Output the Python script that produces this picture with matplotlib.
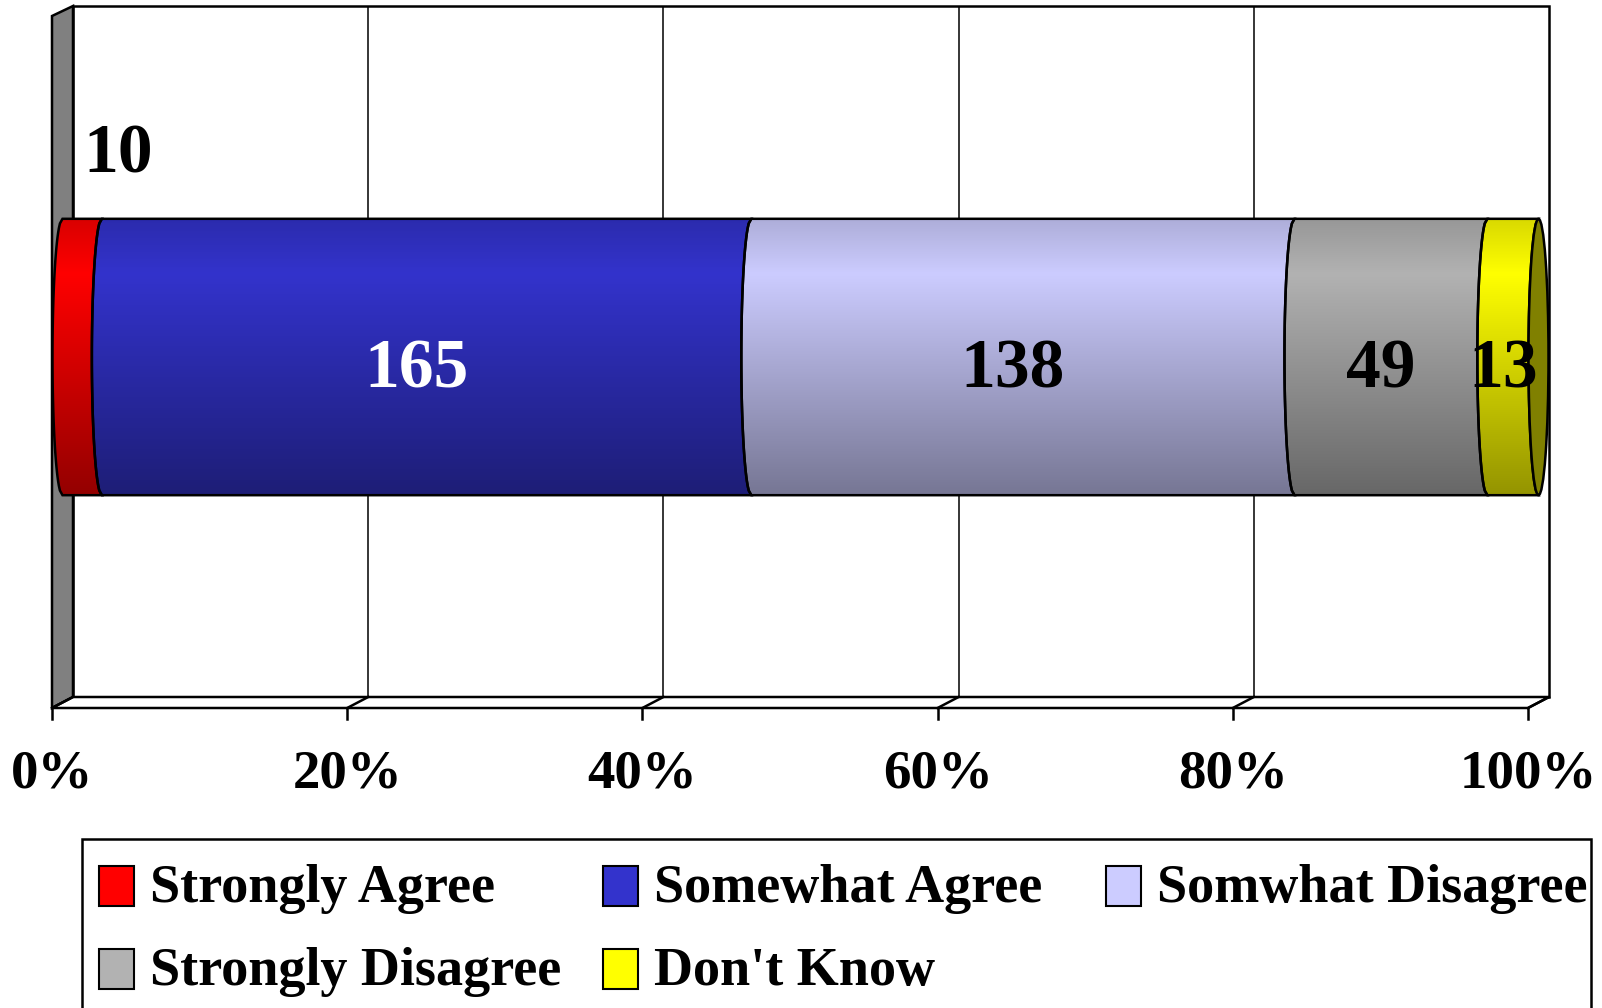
import numpy as np
import matplotlib
matplotlib.use("Agg")
import matplotlib.pyplot as plt
import matplotlib.transforms as mtransforms
from matplotlib.patches import Polygon, Rectangle, Ellipse
from matplotlib.lines import Line2D

# ---------------- data ----------------
categories = ["Strongly Agree", "Somewhat Agree", "Somwhat Disagree",
              "Strongly Disagree", "Don't Know"]
counts = [10, 165, 138, 49, 13]
colors = ["#FF0000", "#3333CC", "#CCCCFF", "#B2B2B2", "#FFFF00"]
label_colors = ["black", "white", "black", "black", "black"]
cap_color = "#808000"
tick_values = [0, 20, 40, 60, 80, 100]
tick_labels = ["0%", "20%", "40%", "60%", "80%", "100%"]

# ---------------- figure / geometry ----------------
W, H = 1602, 1008
DPI = 100
plt.rcParams["font.family"] = ["Liberation Serif", "DejaVu Serif"]
plt.rcParams["font.weight"] = "bold"
fig = plt.figure(figsize=(W / DPI, H / DPI), dpi=DPI)
fig.patch.set_facecolor("white")

L, R, T, B = 73, 1549, 6, 697          # back wall in pixels (top-left origin)
ax = fig.add_axes([L / W, 1 - B / H, (R - L) / W, (B - T) / H])
ax.set_xlim(0, 100)
ax.set_ylim(-1, 1)
ax.axis("off")

LW = 1.8
FRONT = np.array([-21.0, -11.0])   # display offset of front plane
BARP = np.array([-10.5, -5.5])     # display offset of bar plane
ident = mtransforms.IdentityTransform()
tf_bar = ax.transData + mtransforms.Affine2D().translate(*BARP)


def disp(x, y, off=(0, 0)):
    return ax.transData.transform((x, y)) + np.asarray(off)


# back wall
ax.add_patch(Rectangle((0, -1), 100, 2, facecolor="white", edgecolor="black",
                       lw=LW, zorder=1, clip_on=False))
for v in tick_values[1:-1]:
    ax.plot([v, v], [-1, 1], color="black", lw=1.1, zorder=1.5)

# left wall
wall = [disp(0, -1), disp(0, 1), disp(0, 1, FRONT + [0, 1]), disp(0, -1, FRONT)]
ax.add_patch(Polygon(wall, closed=True, facecolor="#808080", edgecolor="black",
                     lw=LW, transform=ident, clip_on=False, zorder=1.2))
# floor
floor = [disp(0, -1), disp(100, -1), disp(100, -1, FRONT), disp(0, -1, FRONT)]
ax.add_patch(Polygon(floor, closed=True, facecolor="white", edgecolor="black",
                     lw=LW, transform=ident, clip_on=False, zorder=1.2))
for v in tick_values:
    p0, p1 = disp(v, -1), disp(v, -1, FRONT)
    ax.add_line(Line2D([p0[0], p1[0]], [p0[1], p1[1]], color="black", lw=LW,
                       transform=ident, clip_on=False, zorder=1.3))
    t1 = p1 + [0, -11]
    ax.add_line(Line2D([p1[0], t1[0]], [p1[1], t1[1]], color="black", lw=LW,
                       transform=ident, clip_on=False, zorder=1.3))
for v, lab in zip(tick_values, tick_labels):
    p = disp(v, -1, FRONT + [0, -67])
    ax.text(p[0], p[1], lab, transform=ident, ha="center", va="center",
            fontsize=39.5, fontweight="bold", clip_on=False)

# ---------------- cylinder bar ----------------
total = float(sum(counts))
pct = [c / total * 100 for c in counts]
starts = np.concatenate([[0], np.cumsum(pct)[:-1]])
ends = np.cumsum(pct)
h = 0.8
bulge = 10.0 * 100 / (R - L)        # 10 px bulge in data units
ys = np.linspace(h / 2, -h / 2, 60)
curve = np.sqrt(np.clip(1 - (ys / (h / 2)) ** 2, 0, 1)) * bulge

tt = np.linspace(0, 1, 200)
prof = np.where(tt < 0.2, 0.85 + 0.15 * tt / 0.2, 1 - 0.42 * (tt - 0.2) / 0.8)

for i, (a, b) in enumerate(zip(starts, ends)):
    base = np.array(matplotlib.colors.to_rgb(colors[i]))
    grad = np.clip(prof[:, None] * base[None, :], 0, 1)[:, None, :]
    left = np.column_stack([a - curve, ys])
    right = np.column_stack([b - curve, ys])[::-1]
    verts = np.vstack([left, right])
    outline = Polygon(verts, closed=True, facecolor="none", edgecolor="black",
                      lw=LW, transform=tf_bar, clip_on=False, zorder=4)
    ax.add_patch(outline)
    im = ax.imshow(grad, extent=[a - bulge, b, -h / 2, h / 2], transform=tf_bar,
                   aspect="auto", interpolation="bilinear", zorder=3)
    im.set_clip_box(fig.bbox)
    im.set_clip_path(outline)

# end cap
ax.add_patch(Ellipse((ends[-1], 0), 2 * bulge, h, facecolor=cap_color,
                     edgecolor="black", lw=LW, transform=tf_bar,
                     clip_on=False, zorder=4.5))
ax.set_xlim(0, 100)
ax.set_ylim(-1, 1)

# data labels
for i, (a, b) in enumerate(zip(starts, ends)):
    if pct[i] < 3:
        ax.annotate(str(counts[i]), xy=((a + b) / 2 - bulge, h / 2),
                    xycoords=tf_bar, xytext=(46 * 0.72, 63 * 0.72),
                    textcoords="offset points", ha="center", va="center",
                    fontsize=50, fontweight="bold", color=label_colors[i],
                    annotation_clip=False, zorder=6)
    else:
        ax.annotate(str(counts[i]), xy=((a + b) / 2 - bulge, 0),
                    xycoords=tf_bar, xytext=(0, -14 * 0.72),
                    textcoords="offset points", ha="center", va="center",
                    fontsize=50, fontweight="bold", color=label_colors[i],
                    annotation_clip=False, zorder=6)

# ---------------- legend (manual, equal columns) ----------------
def fx(px):
    return px / W


def fy(py):
    return 1 - py / H


fig.add_artist(Rectangle((fx(82), fy(1030)), fx(1591) - fx(82), fy(839) - fy(1030),
                         transform=fig.transFigure, facecolor="white",
                         edgecolor="black", lw=LW, zorder=2))
col_x = [99, 603, 1106]
row_y = [866, 949]
for i, cat in enumerate(categories):
    cx = col_x[i % 3]
    ry = row_y[i // 3]
    fig.add_artist(Rectangle((fx(cx), fy(ry + 40)), fx(35), 40 / H,
                             transform=fig.transFigure, facecolor=colors[i],
                             edgecolor="black", lw=1.5, zorder=3))
    fig.text(fx(cx + 51), fy(ry + 23), cat, ha="left", va="center",
             fontsize=39, fontweight="bold", zorder=3)

fig.savefig("out.png", dpi=DPI, facecolor="white")
